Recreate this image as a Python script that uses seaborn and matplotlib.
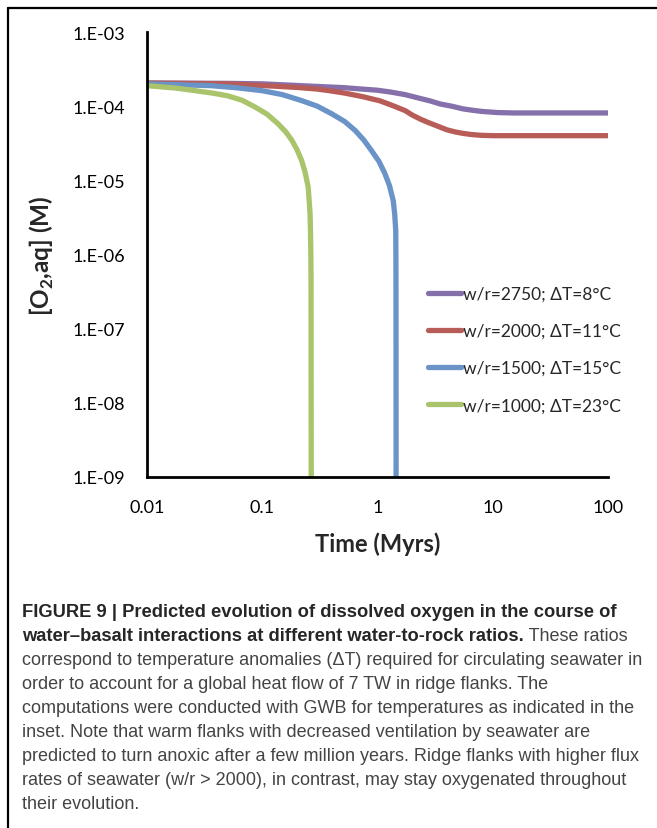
import pandas as pd
import matplotlib
matplotlib.use("Agg")
import matplotlib.pyplot as plt
from matplotlib.lines import Line2D
from matplotlib.ticker import FixedLocator, FixedFormatter, NullLocator
import seaborn as sns

# curves: time in Myrs, dissolved O2 in M
t_2750 = [0.01, 0.05, 0.1, 0.27, 0.5, 0.7, 1.0, 1.3, 1.74, 2.35, 2.9, 3.5, 4.4,
          5.5, 6.7, 8, 11, 15, 100]
o2_2750 = [2.05e-4, 2.03e-4, 2.0e-4, 1.86e-4, 1.78e-4, 1.71e-4, 1.64e-4, 1.55e-4,
           1.43e-4, 1.27e-4, 1.17e-4, 1.07e-4, 1.0e-4, 9.2e-5, 8.8e-5, 8.5e-5,
           8.2e-5, 8.1e-5, 8.1e-5]

t_2000 = [0.01, 0.05, 0.137, 0.21, 0.3, 0.39, 0.52, 0.75, 1.05, 1.35, 1.74, 2.0,
          2.35, 2.7, 3.2, 4.0, 4.7, 5.5, 6.5, 7.8, 10, 100]
o2_2000 = [2.05e-4, 2.0e-4, 1.85e-4, 1.78e-4, 1.7e-4, 1.61e-4, 1.5e-4, 1.34e-4,
           1.18e-4, 1.02e-4, 8.7e-5, 7.6e-5, 6.7e-5, 6.1e-5, 5.5e-5, 4.8e-5,
           4.5e-5, 4.3e-5, 4.15e-5, 4.05e-5, 4.0e-5, 4.0e-5]

t_1500 = [0.01, 0.036, 0.06, 0.099, 0.15, 0.219, 0.3, 0.40, 0.52, 0.64, 0.76, 0.89,
          1.03, 1.16, 1.27, 1.37, 1.41, 1.44, 1.445, 1.448, 1.45]
o2_1500 = [2.0e-4, 1.89e-4, 1.77e-4, 1.62e-4, 1.43e-4, 1.19e-4, 1.0e-4, 7.9e-5,
           6.2e-5, 4.7e-5, 3.5e-5, 2.5e-5, 1.8e-5, 1.23e-5, 8.5e-6, 5.3e-6,
           3.5e-6, 2.1e-6, 8e-7, 1e-7, 1e-9]

t_1000 = [0.01, 0.018, 0.026, 0.037, 0.050, 0.067, 0.087, 0.11, 0.137, 0.16, 0.18,
          0.2, 0.219, 0.235, 0.25, 0.255, 0.26, 0.262, 0.264, 0.265, 0.266]
o2_1000 = [1.89e-4, 1.75e-4, 1.62e-4, 1.5e-4, 1.38e-4, 1.2e-4, 9.7e-5, 7.8e-5,
           5.8e-5, 4.5e-5, 3.5e-5, 2.6e-5, 1.87e-5, 1.3e-5, 8.2e-6, 5.5e-6,
           3.5e-6, 2.2e-6, 1e-6, 5e-7, 1e-9]

labels = ["w/r=2750; ΔT=8°C", "w/r=2000; ΔT=11°C", "w/r=1500; ΔT=15°C", "w/r=1000; ΔT=23°C"]
colors = ["#8670ab", "#b85c57", "#6a93c8", "#a9c46b"]

x_ticks = [0.01, 0.1, 1, 10, 100]
x_ticklabels = ["0.01", "0.1", "1", "10", "100"]
y_ticks = [1e-9, 1e-8, 1e-7, 1e-6, 1e-5, 1e-4, 1e-3]
y_ticklabels = ["1.E-09", "1.E-08", "1.E-07", "1.E-06", "1.E-05", "1.E-04", "1.E-03"]

caption_bold = "FIGURE 9 | Predicted evolution of dissolved oxygen in the course of"
caption_bold2 = "water–basalt interactions at different water-to-rock ratios."
caption_rest2 = " These ratios"
caption_lines = [
    "correspond to temperature anomalies (ΔT) required for circulating seawater in",
    "order to account for a global heat flow of 7 TW in ridge flanks. The",
    "computations were conducted with GWB for temperatures as indicated in the",
    "inset. Note that warm flanks with decreased ventilation by seawater are",
    "predicted to turn anoxic after a few million years. Ridge flanks with higher flux",
    "rates of seawater (w/r > 2000), in contrast, may stay oxygenated throughout",
    "their evolution.",
]

frames = []
for lab, t, v in zip(labels, [t_2750, t_2000, t_1500, t_1000],
                     [o2_2750, o2_2000, o2_1500, o2_1000]):
    frames.append(pd.DataFrame({"time": t, "o2": v, "series": lab}))
df = pd.concat(frames, ignore_index=True)

sns.set_style("white")
plt.rcParams["font.family"] = ["Lato", "DejaVu Sans"]
plt.rcParams["mathtext.fontset"] = "custom"
plt.rcParams["mathtext.bf"] = "Lato:bold"

W, H = 657, 829
fig = plt.figure(figsize=(W / 100, H / 100), dpi=100)
ax = fig.add_axes([147 / W, 1 - 478 / H, (608 - 147) / W, (478 - 33) / H])

sns.lineplot(data=df, x="time", y="o2", hue="series", hue_order=labels,
             palette=dict(zip(labels, colors)), sort=False, estimator=None,
             linewidth=3.8, legend=False, ax=ax)
for ln in ax.get_lines():
    ln.set_solid_joinstyle("round")

ax.set_xscale("log")
ax.set_yscale("log")
ax.set_xlim(0.01, 100)
ax.set_ylim(1e-9, 1e-3)
ax.xaxis.set_major_locator(FixedLocator(x_ticks))
ax.xaxis.set_major_formatter(FixedFormatter(x_ticklabels))
ax.yaxis.set_major_locator(FixedLocator(y_ticks))
ax.yaxis.set_major_formatter(FixedFormatter(y_ticklabels))
ax.xaxis.set_minor_locator(NullLocator())
ax.yaxis.set_minor_locator(NullLocator())

for side in ["top", "right"]:
    ax.spines[side].set_visible(False)
for side in ["left", "bottom"]:
    ax.spines[side].set_linewidth(2)
    ax.spines[side].set_color("black")
ax.tick_params(axis="both", direction="inout", length=9.5, width=2, color="black",
               labelsize=13, pad=11, labelcolor="black")

ax.set_xlabel("Time (Myrs)", fontsize=17, fontweight="bold", labelpad=12)
ax.set_ylabel("[O$_\\mathbf{2}$,aq] (M)", fontsize=17.5, fontweight="bold", labelpad=12)

handles = [Line2D([], [], color=c, lw=3.8) for c in colors]
ax.legend(handles, labels, loc="upper left", bbox_to_anchor=(0.6095, 0.43),
          frameon=False, fontsize=12.5, handlelength=1.9, handletextpad=0.1,
          labelspacing=1.22, borderpad=0, borderaxespad=0)

# frame around the figure panel (top and left only, the rest is cropped)
fig.add_artist(Line2D([8 / W, 1], [1 - 9 / H, 1 - 9 / H], transform=fig.transFigure,
                      color="black", lw=1.6))
fig.add_artist(Line2D([8 / W, 8 / W], [0, 1 - 9 / H], transform=fig.transFigure,
                      color="black", lw=1.6))

# caption, sized to the widths of the reference lines
renderer = fig.canvas.get_renderer()
cap_font = ["Liberation Sans", "DejaVu Sans"]


def fit_size(txt, target_px, weight):
    t = fig.text(0, 0, txt, fontsize=12, fontweight=weight, family=cap_font)
    w = t.get_window_extent(renderer).width
    t.remove()
    return 12 * target_px / w


bold_size = fit_size(caption_bold, 590, "bold")
norm_size = fit_size(caption_lines[0], 621, "normal")
x0 = 22 / W


def base_y(k):
    return 1 - (617 + 24 * k) / H


fig.text(x0, base_y(0), caption_bold, fontsize=bold_size, fontweight="bold",
         family=cap_font, color="#262626", va="baseline")
b2 = fig.text(x0, base_y(1), caption_bold2, fontsize=bold_size, fontweight="bold",
              family=cap_font, color="#262626", va="baseline")
x_end = b2.get_window_extent(renderer).x1 / W
fig.text(x_end, base_y(1), caption_rest2, fontsize=norm_size, family=cap_font,
         color="#444444", va="baseline")
for k, line in enumerate(caption_lines, start=2):
    fig.text(x0, base_y(k), line, fontsize=norm_size, family=cap_font,
             color="#444444", va="baseline")

fig.savefig("out.png", dpi=100)
